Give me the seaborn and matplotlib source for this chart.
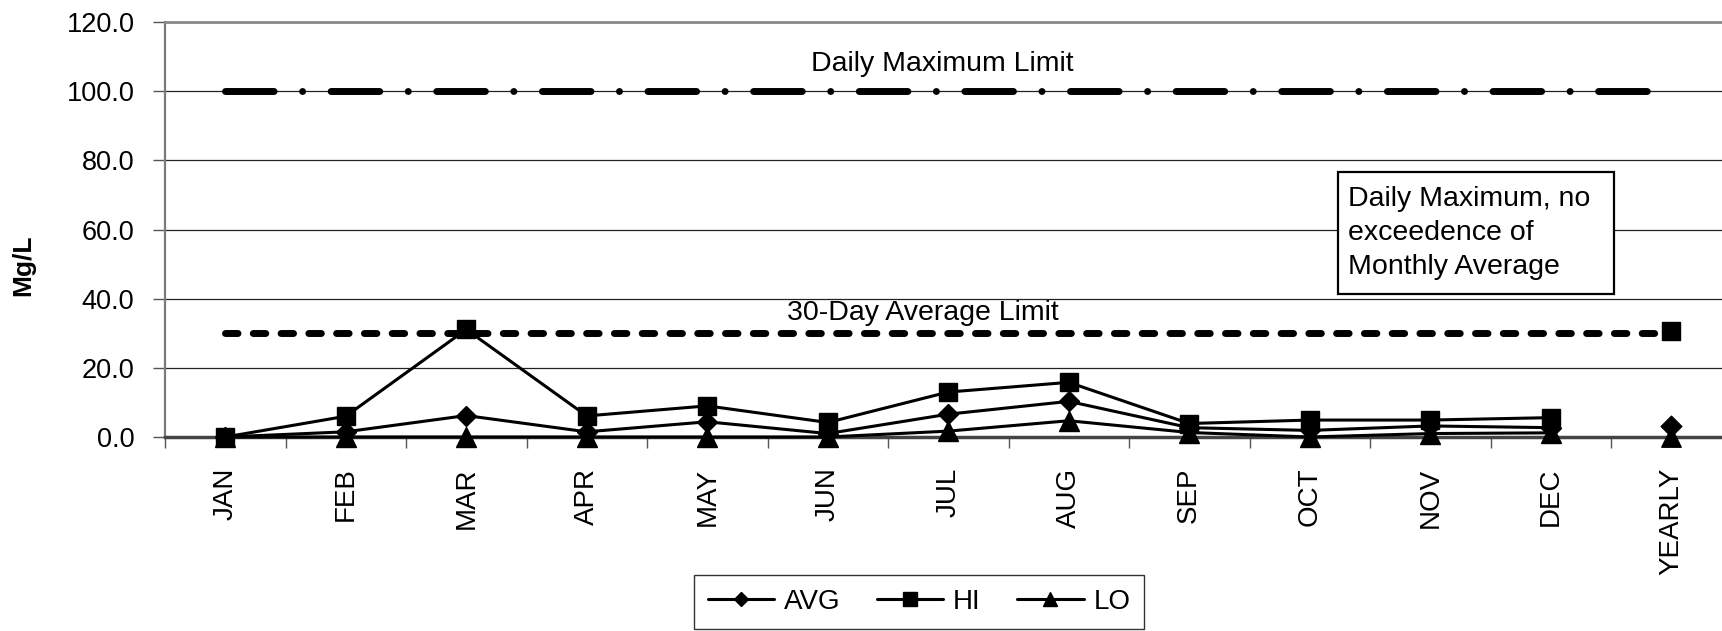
import numpy as np
import pandas as pd
import matplotlib
matplotlib.use("Agg")
import matplotlib.pyplot as plt
from matplotlib.ticker import FormatStrFormatter
from matplotlib.patches import Rectangle
import seaborn as sns

# ---- data ----
categories = ["JAN", "FEB", "MAR", "APR", "MAY", "JUN", "JUL", "AUG",
              "SEP", "OCT", "NOV", "DEC", "YEARLY"]
avg_values = [0.0, 1.5, 6.2, 1.5, 4.4, 1.0, 6.6, 10.3, 2.7, 1.9, 3.2, 2.7, 3.1]
hi_values = [0.0, 6.0, 31.1, 6.1, 9.0, 4.2, 13.0, 15.8, 3.9, 4.9, 4.9, 5.6, 30.7]
lo_values = [0.0, 0.0, 0.0, 0.0, 0.0, 0.0, 1.7, 4.7, 1.3, 0.0, 1.0, 1.2, 0.0]
daily_max_limit = [100.0] * len(categories)
avg_limit = [30.0] * len(categories)
y_ticks = [0, 20, 40, 60, 80, 100, 120]

sns.set_theme(style="white", rc={"text.color": "black", "axes.labelcolor": "black",
                                 "xtick.color": "black", "ytick.color": "black"})
plt.rcParams["font.family"] = ["Liberation Sans", "DejaVu Sans"]

W, H = 1722, 631
fig = plt.figure(figsize=(W / 100, H / 100), dpi=100)
ax = fig.add_axes([165 / W, 1 - 437 / H, 13 * 120.5 / W, 415 / H])

x = np.arange(len(categories))
months = x[:-1]

# limit lines
ax.plot(x, daily_max_limit, color="black", lw=5,
        dashes=(7.0, 4.1, 0.01, 4.1), dash_capstyle="round", zorder=2)
ax.plot(x, avg_limit, color="black", lw=5,
        dashes=(1.8, 2.2), dash_capstyle="round", zorder=2)

series = [("AVG", avg_values, "D", 10.5),
          ("HI", hi_values, "s", 13.5),
          ("LO", lo_values, "^", 14)]
for name, vals, mk, ms in series:
    sns.lineplot(x=months, y=vals[:-1], ax=ax, color="black", lw=2.2,
                 marker=mk, markersize=ms, markeredgecolor="black",
                 markeredgewidth=1, label=name, zorder=4, clip_on=False)
    sns.scatterplot(x=[x[-1]], y=[vals[-1]], ax=ax, color="black",
                    marker=mk, s=ms ** 2, edgecolor="black", linewidth=1,
                    legend=False, zorder=4, clip_on=False)

ax.set_xlim(-0.5, len(categories) - 0.5)
ax.set_ylim(0, 120)
ax.set_yticks(y_ticks)
ax.yaxis.set_major_formatter(FormatStrFormatter("%.1f"))
ax.set_xticks(x, labels=categories, rotation=90)
ax.set_xticks(np.arange(-0.5, len(categories)), minor=True)

ax.tick_params(axis="y", which="major", direction="out", length=9, width=1,
               color="#555555", labelsize=19.5, pad=13, left=True)
ax.tick_params(axis="x", which="major", length=0, labelsize=20, pad=22,
               bottom=True)
ax.tick_params(axis="x", which="minor", direction="out", length=8, width=1,
               color="#555555", bottom=True)

ax.grid(axis="y", color="#222222", lw=0.9)
ax.grid(axis="x", visible=False)
ax.set_axisbelow(True)

for side in ["top", "left", "bottom", "right"]:
    ax.spines[side].set_visible(True)
ax.spines["right"].set_visible(False)
ax.spines["top"].set_color("#8a8a8a")
ax.spines["top"].set_linewidth(2)
ax.spines["left"].set_color("#7a7a7a")
ax.spines["left"].set_linewidth(1.6)
ax.spines["bottom"].set_color("#444444")
ax.spines["bottom"].set_linewidth(2.5)

ax.set_xlabel("")
ax.set_ylabel("Mg/L", fontsize=19, fontweight="bold")
ax.yaxis.set_label_coords(-0.0906, 0.414)
ax.yaxis.label.set_verticalalignment("center")

ax.text(5.95, 107.9, "Daily Maximum Limit", ha="center", va="center",
        fontsize=20.5, zorder=5)
ax.text(5.79, 35.9, "30-Day Average Limit", ha="center", va="center",
        fontsize=20.5, zorder=5)
ax.add_patch(Rectangle((9.234, 41.3), 11.525 - 9.234, 76.5 - 41.3,
                       fc="white", ec="black", lw=1.6, zorder=6))
ax.text(9.32, 59.0, "Daily Maximum, no\nexceedence of\nMonthly Average",
        ha="left", va="center", fontsize=20.5, linespacing=1.4, zorder=7)

if ax.get_legend() is not None:
    ax.get_legend().remove()
handles, labels = ax.get_legend_handles_labels()
leg = fig.legend(handles, labels, loc="center", ncol=3,
                 bbox_to_anchor=(919 / W, 1 - 602 / H),
                 fontsize=20, frameon=True, fancybox=False, markerscale=0.7,
                 handlelength=2.4, handletextpad=0.35, columnspacing=1.3,
                 borderpad=0.5)
leg.get_frame().set_edgecolor("black")
leg.get_frame().set_linewidth(1.0)

fig.savefig("out.png", dpi=100)
